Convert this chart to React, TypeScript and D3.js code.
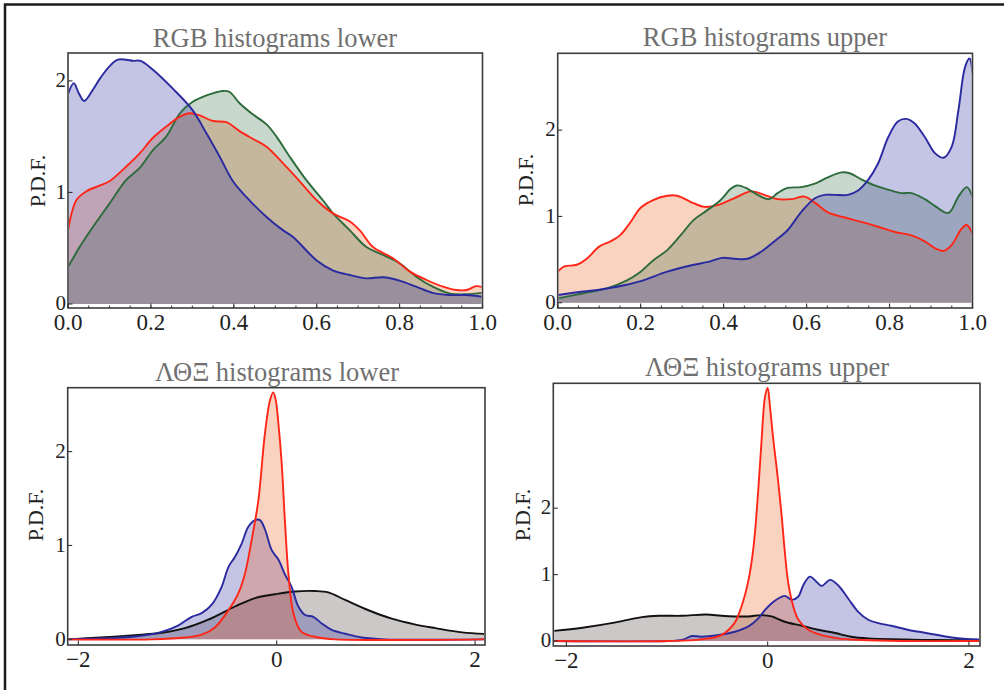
import React from "react";
import * as d3 from "d3";

type Pt = [number, number];

// ---- RGB histograms, lower ----
const rgbLowerBlue: Pt[] = [
  [0, 1.88], [0.014, 1.98], [0.026, 1.89], [0.039, 1.82], [0.06, 1.92], [0.077, 2.02],
  [0.1, 2.13], [0.12, 2.19], [0.14, 2.19], [0.157, 2.18], [0.175, 2.18], [0.205, 2.1],
  [0.253, 1.93], [0.3, 1.74], [0.334, 1.53], [0.366, 1.32], [0.398, 1.1], [0.43, 0.96],
  [0.479, 0.78], [0.519, 0.66], [0.543, 0.6], [0.6, 0.39], [0.64, 0.3], [0.68, 0.26],
  [0.72, 0.23], [0.76, 0.24], [0.8, 0.21], [0.84, 0.155], [0.88, 0.1], [0.92, 0.08],
  [0.96, 0.08], [1.0, 0.065],
];
const rgbLowerRed: Pt[] = [
  [0, 0.66], [0.02, 0.93], [0.044, 1.01], [0.076, 1.06], [0.1, 1.1], [0.14, 1.23],
  [0.173, 1.35], [0.205, 1.49], [0.237, 1.59], [0.27, 1.68], [0.294, 1.71], [0.318, 1.69],
  [0.35, 1.64], [0.382, 1.63], [0.414, 1.55], [0.446, 1.48], [0.479, 1.41], [0.519, 1.26],
  [0.559, 1.1], [0.6, 0.93], [0.64, 0.81], [0.68, 0.74], [0.704, 0.66], [0.736, 0.51],
  [0.784, 0.41], [0.825, 0.29], [0.865, 0.215], [0.905, 0.155], [0.937, 0.125],
  [0.961, 0.125], [0.985, 0.16], [1.0, 0.15],
];
const rgbLowerGreen: Pt[] = [
  [0, 0.33], [0.028, 0.51], [0.06, 0.69], [0.1, 0.9], [0.14, 1.11], [0.173, 1.22],
  [0.205, 1.38], [0.237, 1.5], [0.27, 1.71], [0.3, 1.81], [0.334, 1.87], [0.374, 1.91],
  [0.39, 1.9], [0.414, 1.8], [0.446, 1.7], [0.479, 1.61], [0.503, 1.5], [0.535, 1.32],
  [0.575, 1.11], [0.615, 0.93], [0.64, 0.81], [0.68, 0.66], [0.72, 0.51], [0.76, 0.44],
  [0.8, 0.365], [0.84, 0.245], [0.88, 0.155], [0.92, 0.095], [0.96, 0.087], [1.0, 0.1],
];

// ---- RGB histograms, upper ----
const rgbUpperBlue: Pt[] = [
  [0, 0.09], [0.062, 0.13], [0.1, 0.15], [0.143, 0.185], [0.2, 0.25], [0.264, 0.36],
  [0.328, 0.44], [0.36, 0.47], [0.397, 0.52], [0.425, 0.51], [0.458, 0.51], [0.49, 0.59],
  [0.522, 0.71], [0.554, 0.84], [0.587, 1.05], [0.62, 1.21], [0.643, 1.25], [0.667, 1.25],
  [0.7, 1.25], [0.724, 1.3], [0.748, 1.42], [0.772, 1.61], [0.797, 1.92], [0.82, 2.1],
  [0.84, 2.13], [0.86, 2.08], [0.885, 1.92], [0.91, 1.73], [0.93, 1.68], [0.95, 1.81],
  [0.966, 2.23], [0.982, 2.73], [0.993, 2.83], [1.0, 2.66],
];
const rgbUpperRed: Pt[] = [
  [0, 0.36], [0.016, 0.42], [0.046, 0.44], [0.07, 0.51], [0.1, 0.65], [0.127, 0.71],
  [0.15, 0.78], [0.175, 0.93], [0.2, 1.1], [0.23, 1.19], [0.264, 1.24], [0.288, 1.24],
  [0.32, 1.17], [0.353, 1.11], [0.385, 1.13], [0.425, 1.21], [0.466, 1.29], [0.498, 1.25],
  [0.53, 1.2], [0.563, 1.2], [0.595, 1.23], [0.62, 1.16], [0.65, 1.05], [0.69, 0.99],
  [0.73, 0.94], [0.772, 0.88], [0.813, 0.82], [0.853, 0.78], [0.885, 0.71], [0.91, 0.63],
  [0.93, 0.6], [0.95, 0.67], [0.974, 0.86], [0.986, 0.9], [1.0, 0.8],
];
const rgbUpperGreen: Pt[] = [
  [0, 0.05], [0.062, 0.11], [0.12, 0.17], [0.167, 0.26], [0.2, 0.36], [0.23, 0.49],
  [0.264, 0.61], [0.296, 0.78], [0.328, 0.96], [0.36, 1.07], [0.393, 1.19], [0.417, 1.32],
  [0.433, 1.36], [0.458, 1.32], [0.482, 1.25], [0.51, 1.2], [0.53, 1.27], [0.554, 1.33],
  [0.587, 1.34], [0.62, 1.38], [0.65, 1.45], [0.684, 1.51], [0.704, 1.5], [0.732, 1.43],
  [0.764, 1.36], [0.797, 1.31], [0.829, 1.27], [0.853, 1.27], [0.885, 1.2], [0.91, 1.12],
  [0.942, 1.04], [0.966, 1.23], [0.986, 1.34], [1.0, 1.23],
];

// ---- ΛΘΞ histograms, lower ----
const ltxLowerRed: Pt[] = [
  [-2.11, 0], [-1.26, 0], [-0.925, 0.02], [-0.756, 0.05], [-0.62, 0.13], [-0.487, 0.31],
  [-0.387, 0.49], [-0.32, 0.7], [-0.252, 1.06], [-0.185, 1.48], [-0.118, 2.2],
  [-0.067, 2.55], [-0.035, 2.63], [-0.01, 2.55], [0.017, 2.3], [0.05, 1.88], [0.084, 1.24],
  [0.118, 0.7], [0.168, 0.28], [0.25, 0.08], [0.42, 0.02], [0.588, 0], [2.13, 0],
];
const ltxLowerBlue: Pt[] = [
  [-2.11, 0], [-1.43, 0.03], [-1.16, 0.08], [-0.99, 0.15], [-0.857, 0.24], [-0.756, 0.28],
  [-0.655, 0.37], [-0.555, 0.56], [-0.487, 0.77], [-0.42, 0.88], [-0.353, 1.02],
  [-0.286, 1.2], [-0.218, 1.27], [-0.168, 1.27], [-0.118, 1.17], [-0.05, 0.95],
  [0.017, 0.85], [0.084, 0.69], [0.15, 0.56], [0.218, 0.35], [0.286, 0.26], [0.37, 0.24],
  [0.454, 0.17], [0.555, 0.1], [0.69, 0.06], [0.857, 0.02], [1.09, 0], [2.13, 0],
];
const ltxLowerBlack: Pt[] = [
  [-2.11, 0], [-1.78, 0.02], [-1.43, 0.045], [-1.16, 0.07], [-0.925, 0.12], [-0.69, 0.21],
  [-0.42, 0.35], [-0.218, 0.44], [-0.017, 0.48], [0.185, 0.51], [0.387, 0.515],
  [0.52, 0.5], [0.69, 0.42], [0.925, 0.31], [1.16, 0.22], [1.39, 0.16], [1.6, 0.12],
  [1.87, 0.075], [2.13, 0.057],
];

// ---- ΛΘΞ histograms, upper ----
const ltxUpperRed: Pt[] = [
  [-2.14, 0], [-0.99, 0], [-0.66, 0.025], [-0.46, 0.09], [-0.33, 0.27], [-0.26, 0.52],
  [-0.19, 0.92], [-0.14, 1.42], [-0.093, 2.28], [-0.06, 3.03], [-0.026, 3.68], [0, 3.81],
  [0.023, 3.53], [0.056, 3.03], [0.08, 2.73], [0.106, 2.38], [0.14, 1.87], [0.172, 1.32],
  [0.205, 0.87], [0.255, 0.52], [0.305, 0.32], [0.404, 0.17], [0.536, 0.09], [0.7, 0.04],
  [0.93, 0.015], [1.33, 0], [2.11, 0],
];
const ltxUpperBlue: Pt[] = [
  [-2.14, 0], [-0.99, 0], [-0.85, 0.015], [-0.755, 0.075], [-0.66, 0.065], [-0.49, 0.09],
  [-0.325, 0.14], [-0.19, 0.22], [-0.093, 0.34], [-0.026, 0.47], [0.04, 0.57],
  [0.106, 0.64], [0.17, 0.68], [0.24, 0.62], [0.305, 0.67], [0.354, 0.84], [0.42, 0.97],
  [0.487, 0.89], [0.536, 0.83], [0.62, 0.92], [0.7, 0.84], [0.8, 0.64], [0.9, 0.44],
  [1.0, 0.32], [1.1, 0.27], [1.23, 0.23], [1.39, 0.17], [1.56, 0.125], [1.69, 0.09],
  [1.85, 0.05], [1.98, 0.03], [2.11, 0.025],
];
const ltxUpperBlack: Pt[] = [
  [-2.14, 0.15], [-1.84, 0.2], [-1.51, 0.28], [-1.25, 0.36], [-1.08, 0.38], [-0.85, 0.38],
  [-0.61, 0.4], [-0.46, 0.38], [-0.325, 0.37], [-0.19, 0.37], [-0.06, 0.39], [0.04, 0.37],
  [0.17, 0.29], [0.34, 0.23], [0.5, 0.17], [0.67, 0.12], [0.83, 0.065], [1.0, 0.04],
  [1.33, 0.025], [1.66, 0.015], [2.11, 0.015],
];

// axis ticks
const rgbXTicks = [0, 0.2, 0.4, 0.6, 0.8, 1.0];
const rgbXMinor = d3.range(0, 1.0001, 0.05);
const ltxXTicks = [-2, 0, 2];
const yTickValues = [0, 1, 2];

const FONT = "'Liberation Serif', 'Times New Roman', Times, serif";

const STYLE = {
  red: { stroke: "#ff2618", fill: "rgb(238,88,22)" },
  green: { stroke: "#2d6b3c", fill: "rgb(55,110,65)" },
  blue: { stroke: "#2a2aa0", fill: "rgb(38,38,155)" },
  black: { stroke: "#111111", fill: "rgb(72,50,50)" },
};
const FILL_OPACITY = 0.27;

type Series = { data: Pt[]; color: keyof typeof STYLE };

type PanelCfg = {
  id: string;
  title: string;
  titleX: number;
  titleY: number;
  left: number;
  right: number;
  top: number;
  bottom: number;
  labelX: number;
  labelY: number;
  xDomain: [number, number];
  yDomain: [number, number];
  xTicks: number[];
  xMinor: number[];
  xFormat: (v: number) => string;
  yTicks: number[];
  series: Series[];
  lineOrder: number[];
};

const fmt1 = (v: number) => v.toFixed(1);
const fmtInt = (v: number) => (v < 0 ? "\u2212" + Math.abs(v) : String(v));

const panels: PanelCfg[] = [
  {
    id: "p1", title: "RGB histograms lower", titleX: 275, titleY: 46.5,
    left: 68, right: 482.5, top: 53, bottom: 308, labelX: 45, labelY: 181,
    xDomain: [0, 1], yDomain: [-0.036, 2.25],
    xTicks: rgbXTicks, xMinor: rgbXMinor, xFormat: fmt1, yTicks: yTickValues,
    series: [
      { data: rgbLowerRed, color: "red" },
      { data: rgbLowerGreen, color: "green" },
      { data: rgbLowerBlue, color: "blue" },
    ],
    lineOrder: [1, 0, 2],
  },
  {
    id: "p2", title: "RGB histograms upper", titleX: 765, titleY: 46,
    left: 557.7, right: 972.5, top: 53.3, bottom: 308, labelX: 533, labelY: 180,
    xDomain: [0, 1], yDomain: [-0.061, 2.89],
    xTicks: rgbXTicks, xMinor: rgbXMinor, xFormat: fmt1, yTicks: yTickValues,
    series: [
      { data: rgbUpperRed, color: "red" },
      { data: rgbUpperGreen, color: "green" },
      { data: rgbUpperBlue, color: "blue" },
    ],
    lineOrder: [0, 1, 2],
  },
  {
    id: "p3", title: "\u039B\u0398\u039E histograms lower", titleX: 277, titleY: 380.5,
    left: 67.7, right: 485, top: 387.7, bottom: 645, labelX: 43, labelY: 515,
    xDomain: [-2.107, 2.1], yDomain: [-0.06, 2.68],
    xTicks: ltxXTicks, xMinor: [], xFormat: fmtInt, yTicks: yTickValues,
    series: [
      { data: ltxLowerBlack, color: "black" },
      { data: ltxLowerBlue, color: "blue" },
      { data: ltxLowerRed, color: "red" },
    ],
    lineOrder: [0, 1, 2],
  },
  {
    id: "p4", title: "\u039B\u0398\u039E histograms upper", titleX: 767, titleY: 376,
    left: 553.3, right: 980, top: 383.3, bottom: 646, labelX: 530, labelY: 515,
    xDomain: [-2.13, 2.11], yDomain: [-0.075, 3.88],
    xTicks: ltxXTicks, xMinor: [], xFormat: fmtInt, yTicks: yTickValues,
    series: [
      { data: ltxUpperBlack, color: "black" },
      { data: ltxUpperBlue, color: "blue" },
      { data: ltxUpperRed, color: "red" },
    ],
    lineOrder: [0, 1, 2],
  },
];

function Panel({ cfg }: { cfg: PanelCfg }) {
  const x = d3.scaleLinear().domain(cfg.xDomain).range([cfg.left, cfg.right]);
  const y = d3.scaleLinear().domain(cfg.yDomain).range([cfg.bottom, cfg.top]);
  const curve = d3.curveCatmullRom.alpha(0.5);
  const area = d3
    .area<Pt>()
    .x((d) => x(d[0]))
    .y0(y(0))
    .y1((d) => y(Math.max(0, d[1])))
    .curve(curve);
  const line = d3
    .line<Pt>()
    .x((d) => x(d[0]))
    .y((d) => y(d[1]))
    .curve(curve);
  const clipId = `clip-${cfg.id}`;
  const w = cfg.right - cfg.left;
  const h = cfg.bottom - cfg.top;

  return (
    <g>
      <defs>
        <clipPath id={clipId}>
          <rect x={cfg.left + 1} y={cfg.top + 1} width={w - 2} height={h - 2} />
        </clipPath>
      </defs>
      <text
        x={cfg.titleX}
        y={cfg.titleY}
        textAnchor="middle"
        fontFamily={FONT}
        fontSize={26.5}
        fill="#707070"
      >
        {cfg.title}
      </text>
      <g clipPath={`url(#${clipId})`}>
        {cfg.series.map((s, i) => (
          <path key={`a${i}`} d={area(s.data) ?? ""} fill={STYLE[s.color].fill} fillOpacity={FILL_OPACITY} />
        ))}
        {cfg.lineOrder.map((i) => {
          const s = cfg.series[i];
          return (
            <path
              key={`l${i}`}
              d={line(s.data) ?? ""}
              fill="none"
              stroke={STYLE[s.color].stroke}
              strokeWidth={1.9}
              strokeLinejoin="round"
            />
          );
        })}
      </g>
      <rect x={cfg.left} y={cfg.top} width={w} height={h} fill="none" stroke="#3c3c3c" strokeWidth={1.6} />
      {cfg.xMinor.map((v, i) => (
        <line key={`xm${i}`} x1={x(v)} x2={x(v)} y1={cfg.bottom} y2={cfg.bottom - 2.5} stroke="#333" strokeWidth={1} />
      ))}
      {cfg.xTicks.map((v) => (
        <g key={`xt${v}`}>
          <line x1={x(v)} x2={x(v)} y1={cfg.bottom} y2={cfg.bottom - 4.5} stroke="#333" strokeWidth={1.1} />
          <text x={x(v)} y={cfg.bottom + 21.5} textAnchor="middle" fontFamily={FONT} fontSize={23} fill="#222">
            {cfg.xFormat(v)}
          </text>
        </g>
      ))}
      {cfg.yTicks.map((v) => (
        <g key={`yt${v}`}>
          <line x1={cfg.left} x2={cfg.left + 4.5} y1={y(v)} y2={y(v)} stroke="#333" strokeWidth={1.1} />
          <text
            x={cfg.left - 2}
            y={y(v)}
            dy="0.3em"
            textAnchor="end"
            fontFamily={FONT}
            fontSize={21}
            fill="#222"
          >
            {v}
          </text>
        </g>
      ))}
      <text
        transform={`translate(${cfg.labelX},${cfg.labelY}) rotate(-90)`}
        textAnchor="middle"
        fontFamily={FONT}
        fontSize={22}
        fill="#222"
      >
        P.D.F.
      </text>
    </g>
  );
}

export default function App() {
  return (
    <svg
      width={1004}
      height={690}
      style={{ position: "absolute", left: 0, top: 0, background: "#fff" }}
    >
      <rect x={0} y={0} width={1004} height={690} fill="#fff" />
      <line x1={4} x2={1004} y1={4.5} y2={4.5} stroke="#1a1a1a" strokeWidth={2.5} />
      <line x1={5} x2={5} y1={4} y2={690} stroke="#1a1a1a" strokeWidth={2.5} />
      {panels.map((p) => (
        <Panel key={p.id} cfg={p} />
      ))}
    </svg>
  );
}
